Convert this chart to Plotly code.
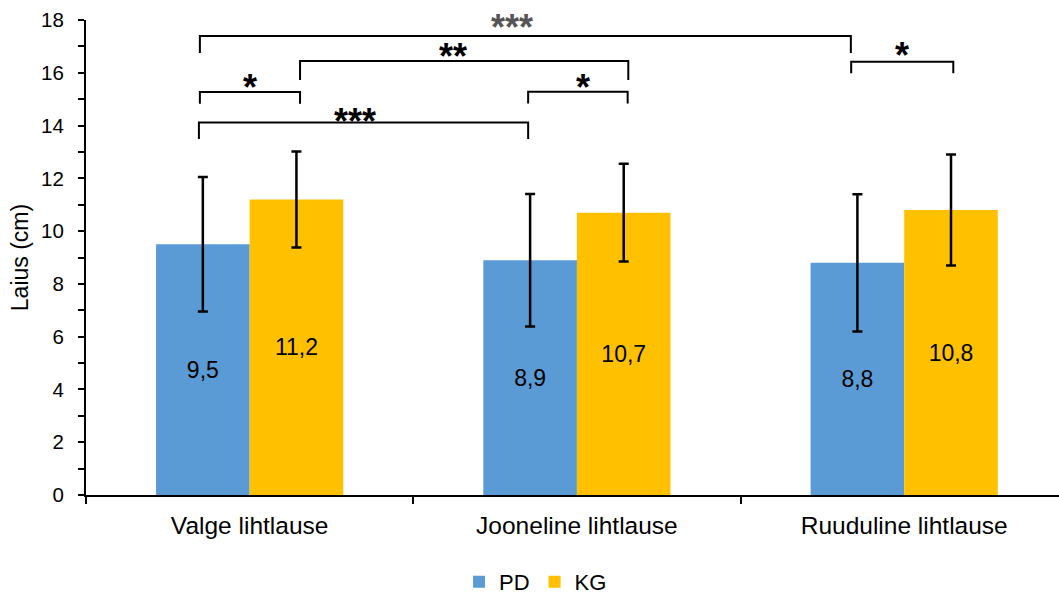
import plotly.graph_objects as go

# ---- data ----
categories = ["Valge lihtlause", "Jooneline lihtlause", "Ruuduline lihtlause"]
series_names = ["PD", "KG"]
pd_values = [9.5, 8.9, 8.8]
kg_values = [11.2, 10.7, 10.8]
pd_errors = [2.55, 2.51, 2.6]
kg_errors = [1.82, 1.85, 2.1]
y_ticks = [0, 2, 4, 6, 8, 10, 12, 14, 16, 18]

# significance brackets: (x_start, x_end, y_bar, y_leg_start, y_leg_end, label, label_x, label_y)
sig_brackets = [
    (-0.152, 1.837, 17.39, 16.75, 16.75, "***", 0.802, 17.92),
    (0.154, 1.157, 16.45, 15.73, 15.73, "**", 0.621, 16.79),
    (-0.152, 0.154, 15.27, 14.83, 14.83, "*", 0.0, 15.65),
    (-0.155, 0.851, 14.12, 13.49, 13.49, "***", 0.322, 14.36),
    (0.851, 1.155, 15.28, 14.84, 14.84, "*", 1.018, 15.62),
    (1.838, 2.150, 16.42, 15.98, 15.98, "*", 1.994, 16.86),
]

FONT = "Liberation Sans, Arial, sans-serif"
BLUE = "#5B9BD5"
YELLOW = "#FFC000"

x_pos = list(range(len(categories)))

fig = go.Figure()
fig.add_trace(go.Bar(
    name=series_names[0], x=x_pos, y=pd_values,
    marker=dict(color=BLUE, line=dict(width=0)),
    error_y=dict(type="data", array=pd_errors, visible=True,
                 color="black", thickness=2.5, width=5),
    texttemplate="%{y:.1f}", textposition="inside", insidetextanchor="middle",
    textfont=dict(size=23, color="black", family=FONT), textangle=0,
    hoverinfo="skip",
))
fig.add_trace(go.Bar(
    name=series_names[1], x=x_pos, y=kg_values,
    marker=dict(color=YELLOW, line=dict(width=0)),
    error_y=dict(type="data", array=kg_errors, visible=True,
                 color="black", thickness=2.5, width=5),
    texttemplate="%{y:.1f}", textposition="inside", insidetextanchor="middle",
    textfont=dict(size=23, color="black", family=FONT), textangle=0,
    hoverinfo="skip",
))

for i, (x0, x1, yb, yl0, yl1, lab, lx, ly) in enumerate(sig_brackets):
    col = "#555555" if i == 0 else "black"
    fig.add_shape(
        type="path", xref="x", yref="y",
        path=f"M {x0},{yl0} L {x0},{yb} L {x1},{yb} L {x1},{yl1}",
        line=dict(color="black", width=2),
    )
    fig.add_annotation(
        x=lx, y=ly, xref="x", yref="y", text=f"<b>{lab}</b>", showarrow=False,
        font=dict(size=36, color=col, family=FONT),
        yanchor="middle", xanchor="center", yshift=-5,
    )

fig.update_layout(
    width=1059, height=603,
    margin=dict(l=86, r=0, t=20, b=108),
    paper_bgcolor="white", plot_bgcolor="white",
    barmode="group", bargap=0.428, bargroupgap=0,
    separators=", ",
    font=dict(family=FONT, size=20, color="black"),
    showlegend=True,
    legend=dict(orientation="h", x=0.462, xanchor="center", y=-0.227, yanchor="bottom",
                font=dict(size=22, family=FONT, color="black"),
                itemwidth=30, traceorder="normal"),
    xaxis=dict(
        range=[-0.5, 2.473], tickmode="array", tickvals=x_pos, ticktext=categories,
        ticks="", showline=True, linecolor="black", linewidth=2,
        showgrid=False, zeroline=False, automargin=False,
        tickfont=dict(size=24.5, family=FONT, color="black"),
        minor=dict(ticks="outside", tick0=-0.5, dtick=1, ticklen=7, tickwidth=2,
                   tickcolor="black", showgrid=False),
        ticklabelstandoff=8,
    ),
    yaxis=dict(
        range=[0, 18], tickmode="array", tickvals=y_ticks,
        ticks="outside", ticklen=6, tickwidth=2, tickcolor="black",
        showline=True, linecolor="black", linewidth=2,
        showgrid=False, zeroline=False, automargin=False,
        tickfont=dict(size=20.5, family=FONT, color="black"),
        ticklabelstandoff=10,
        minor=dict(ticks="outside", tick0=0, dtick=1, ticklen=6, tickwidth=2,
                   tickcolor="black", showgrid=False),
        title=dict(text="Laius (cm)", font=dict(size=23, family=FONT, color="black"),
                   standoff=6),
    ),
)

fig.write_html(
    "out.html",
    config={"displayModeBar": False},
    post_script=(
        "document.body.style.margin='0';"
        "document.body.style.padding='0';"
        "document.documentElement.style.overflow='hidden';"
        "document.body.style.overflow='hidden';"
        "document.documentElement.style.height='603px';"
        "document.body.style.height='603px';"
    ),
)
